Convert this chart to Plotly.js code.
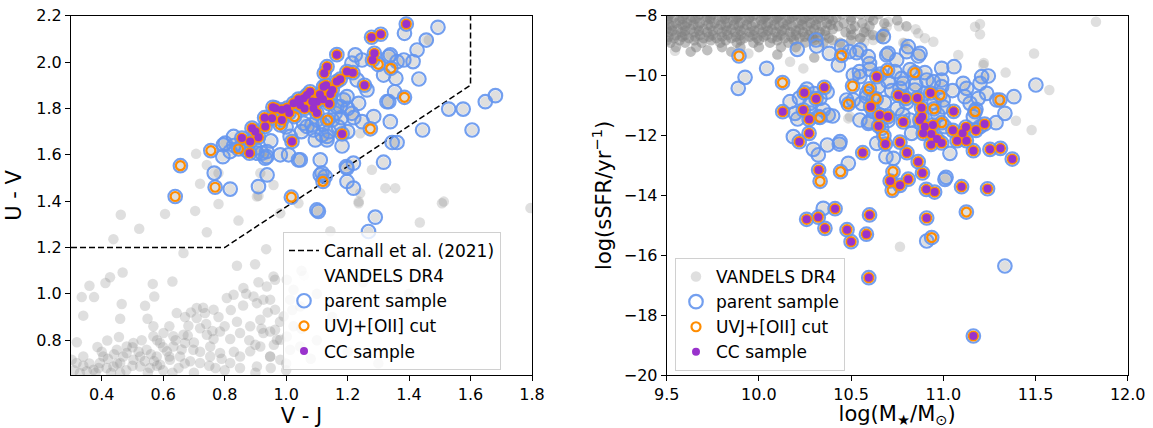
<!DOCTYPE html>
<html><head><meta charset="utf-8">
<script src="https://cdn.plot.ly/plotly-3.0.1.min.js"></script>
<style>html,body{margin:0;padding:0;background:#fff}#chart{width:1153px;height:428px}</style>
</head><body><div id="chart"></div>
<script>
// ---------- LEFT PANEL: UVJ diagram (V-J, U-V) ----------
const carnall_x = [0.3, 0.8, 1.6, 1.6];
const carnall_y = [1.2, 1.2, 1.9, 2.2];

const L_cc = [[1.391,2.164],[1.278,2.107],[1.308,2.120],[1.165,2.032],[1.287,2.038],[1.281,2.009],[1.133,1.980],[1.124,1.952],[1.198,1.959],[1.217,1.954],[1.176,1.926],[1.165,1.916],[1.255,1.900],[1.122,1.894],[1.144,1.862],[1.078,1.872],[1.057,1.844],[1.100,1.829],[1.046,1.815],[1.024,1.822],[1.003,1.801],[0.965,1.801],[0.986,1.750],[0.954,1.758],[0.932,1.722],[0.889,1.715],[0.856,1.672],[0.883,1.657],[0.910,1.676],[0.881,1.607],[1.019,1.657],[1.182,1.690],[1.089,1.801],[1.068,1.858],[0.957,1.805],[0.986,1.794],[1.040,1.840],[1.110,1.860],[1.130,1.900],[1.085,1.830],[1.060,1.800],[1.120,1.840],[1.150,1.880],[1.010,1.780],[0.930,1.760],[0.900,1.700],[1.100,1.780],[1.140,1.820]];

const L_uvj_only = [[0.656,1.553],[0.639,1.420],[0.755,1.618],[0.769,1.460],[1.017,1.417],[0.845,1.625],[1.027,1.765],[1.385,1.848],[1.341,1.973],[1.274,1.712],[1.120,1.485],[1.135,1.750],[0.981,1.729],[1.300,1.990]];

const L_parent_only = [[1.494,2.150],[1.456,2.095],[1.426,2.052],[1.385,2.124],[1.413,2.002],[1.432,1.927],[1.383,2.009],[1.361,2.002],[1.339,2.031],[1.317,1.944],[1.357,1.930],[1.353,1.872],[1.334,1.829],[1.339,1.743],[1.444,1.707],[1.529,1.797],[1.576,1.797],[1.648,1.829],[1.681,1.855],[1.605,1.707],[1.317,1.568],[1.345,1.653],[1.361,1.653],[1.285,1.765],[1.247,1.743],[1.236,1.822],[1.263,1.880],[1.214,1.779],[1.182,1.638],[1.219,1.564],[1.198,1.542],[1.219,1.456],[1.198,1.485],[1.111,1.578],[1.127,1.506],[1.100,1.362],[1.105,1.356],[1.046,1.578],[1.008,1.600],[0.981,1.600],[0.938,1.513],[0.910,1.463],[0.932,1.585],[0.905,1.607],[1.133,1.664],[1.095,1.664],[1.117,1.686],[1.057,1.736],[1.084,1.729],[1.165,1.808],[1.187,1.837],[1.144,1.837],[1.290,1.331],[1.268,1.269],[0.794,1.592],[0.766,1.521],[0.818,1.452],[0.937,1.592],[1.013,1.679],[0.802,1.650],[0.829,1.679],[1.040,1.578],[0.899,1.628],[0.856,1.636],[1.111,1.513],[1.196,1.549],[1.328,1.829],[1.225,2.031],[1.334,2.024],[1.214,1.995],[1.247,2.009],[1.089,1.707],[1.068,1.722],[1.133,1.679],[1.176,1.808],[1.198,1.851],[1.231,1.923],[0.937,1.614],[0.796,1.643],[0.818,1.614],[0.921,1.607],[1.117,1.521],[1.150,1.750],[1.170,1.720],[1.200,1.700],[1.120,1.730],[1.160,1.780],[1.200,1.800],[1.220,1.760],[1.180,1.760],[1.140,1.700],[1.100,1.750],[1.050,1.700],[1.000,1.720],[0.950,1.660],[0.870,1.620],[0.830,1.640]];

const L_vandels_only = [[0.462,1.341],[0.522,1.281],[0.438,1.236],[0.606,1.345],[0.704,1.358],[0.742,1.266],[0.780,1.388],[0.845,1.316],[0.666,1.176],[0.840,1.121],[0.899,1.128],[0.935,1.193],[0.468,1.092],[0.427,1.072],[0.412,1.047],[0.360,1.035],[0.335,0.986],[0.375,0.986],[0.630,1.053],[0.566,1.043],[0.571,0.989],[0.541,0.949],[0.465,0.956],[0.340,0.906],[0.460,0.893],[0.549,0.893],[0.319,0.791],[0.386,0.771],[0.418,0.799],[0.456,0.814],[0.568,0.860],[1.435,1.308],[1.507,1.391],[1.236,1.391],[1.144,1.270],[0.964,1.061],[0.948,0.975],[0.905,0.960],[0.926,0.831],[0.964,0.845],[0.970,0.802],[0.948,0.730],[0.905,0.687],[1.795,1.370],[1.241,1.693],[1.279,1.535],[1.323,1.456],[1.355,1.456],[1.513,1.398],[1.241,1.434],[1.236,1.398],[0.981,1.348],[1.040,1.391],[0.905,1.420],[0.959,1.470],[0.916,1.521],[1.464,2.095],[0.707,1.604],[0.742,1.556],[0.720,1.475],[0.780,1.521],[0.910,1.423],
[0.644,0.917],[0.671,0.900],[0.709,0.896],[0.720,0.852],[0.682,0.862],[0.742,0.824],[0.764,0.805],[0.785,0.838],[0.818,0.805],[0.850,0.831],[0.883,0.860],[0.916,0.888],[0.948,0.838],[0.981,0.802],[1.002,0.816],[0.964,0.932],[0.926,0.975],[0.861,1.025],[0.894,0.989],[0.829,0.996],[0.807,0.982],[0.764,0.932],[0.736,0.917],[0.709,0.939],[0.666,0.824],[0.633,0.817],[0.590,0.788],[0.612,0.752],[0.579,0.730],[0.546,0.759],[0.525,0.730],[0.503,0.716],[0.481,0.745],[0.460,0.702],[0.438,0.687],[0.416,0.680],[0.394,0.702],[0.373,0.673],[0.351,0.666],[0.329,0.659],[0.525,0.687],[0.557,0.680],[0.590,0.694],[0.622,0.716],[0.655,0.730],[0.688,0.709],[0.720,0.702],[0.753,0.730],[0.785,0.745],[0.818,0.702],[0.850,0.730],[0.883,0.752],[0.916,0.773],[0.948,0.730],[0.981,0.716],[1.013,0.759],[1.046,0.773],[1.024,0.860],[0.992,0.903],[1.013,0.975],[1.046,0.946],[0.959,1.075],[0.937,1.032],[1.002,1.061],[1.024,1.018],[0.753,0.773],[0.698,0.759],[0.671,0.788],[0.633,0.773],[0.601,0.831],[0.568,0.817],[0.503,0.788],[0.481,0.773],[0.449,0.759],[0.405,0.730],[0.340,0.730],[0.318,0.702],[0.302,0.716],
[1.05,0.85],[1.10,0.80],[1.20,0.75],[1.00,0.70],[1.15,0.90],[1.30,0.70],[1.10,1.00],[1.25,1.05],[1.40,1.00],[1.05,1.10],[1.02,0.93],[1.08,0.72],
[0.55,0.66],[0.60,0.67],[0.65,0.68],[0.70,0.66],[0.75,0.69],[0.80,0.67],[0.85,0.68],[0.90,0.66],[0.48,0.67],[0.43,0.66],[0.95,0.68],[1.00,0.67],
[0.36,0.70],[0.39,0.68],[0.42,0.72],[0.45,0.70],[0.47,0.73],[0.50,0.69],[0.52,0.75],[0.54,0.71],[0.56,0.74],[0.58,0.69],[0.60,0.77],[0.62,0.73],[0.64,0.80],[0.66,0.76],[0.68,0.82],[0.70,0.79],[0.72,0.75],[0.74,0.87],[0.76,0.84],[0.78,0.90],[0.80,0.86],[0.82,0.93],[0.84,0.88],[0.86,0.95],[0.88,0.80],[0.90,0.78],[0.92,0.85],[0.94,0.92],[0.96,0.78],[0.98,0.88],[0.73,0.94],[0.69,0.92],[0.62,0.86],[0.58,0.80],[0.53,0.80],[0.50,0.77],[0.44,0.74],[0.40,0.75],[0.34,0.69],[0.31,0.67],[0.87,1.00],[0.91,1.05],[0.83,0.75],[0.79,0.72],[0.77,0.68],[0.67,0.70],[0.63,0.66],[0.57,0.71],[0.46,0.66],[0.38,0.66]];

// ---------- RIGHT PANEL: log(sSFR) vs log(M*) ----------
const R_cc = [[10.246,-10.571],[10.310,-10.771],[10.355,-10.393],[10.129,-11.206],[10.241,-11.150],[10.272,-11.462],[10.272,-11.929],[10.219,-12.208],[10.324,-13.154],[10.563,-12.575],[10.639,-10.037],[10.606,-11.039],[10.649,-11.684],[10.686,-12.286],[10.655,-11.317],[10.700,-11.372],[10.712,-13.520],[10.413,-14.446],[10.259,-14.800],[10.322,-14.730],[10.600,-14.655],[10.358,-15.102],[10.478,-15.147],[10.500,-15.548],[10.583,-15.298],[10.596,-16.750],[10.910,-14.757],[11.163,-18.698],[10.756,-10.660],[10.797,-10.760],[10.859,-10.750],[10.931,-10.582],[10.882,-11.078],[10.885,-11.372],[10.873,-11.484],[10.900,-11.707],[10.944,-11.651],[10.891,-11.929],[10.935,-11.950],[10.966,-12.120],[10.991,-12.250],[10.934,-12.300],[10.783,-11.550],[10.765,-12.225],[10.803,-12.575],[10.864,-12.876],[10.887,-13.254],[10.810,-13.460],[10.765,-13.666],[10.908,-13.800],[10.953,-13.890],[11.099,-13.711],[11.240,-13.780],[11.056,-11.195],[11.052,-11.829],[11.123,-11.718],[11.105,-11.929],[11.075,-12.174],[11.125,-12.174],[11.177,-11.829],[11.224,-11.618],[11.163,-12.508],[11.253,-12.464],[11.310,-12.430],[11.374,-12.787]];

const R_uvj_only = [[9.892,-9.346],[10.128,-10.232],[10.449,-9.324],[10.331,-11.395],[10.332,-13.530],[10.443,-13.210],[10.485,-10.955],[10.508,-10.348],[10.599,-10.443],[10.636,-10.780],[10.698,-9.825],[10.846,-9.903],[10.982,-10.649],[10.950,-11.110],[10.991,-11.573],[11.172,-11.206],[11.307,-10.816],[10.727,-13.210],[10.723,-13.833],[11.125,-14.557],[10.937,-15.410],[10.678,-12.010]];

const R_parent_only = [[9.888,-10.426],[9.925,-10.059],[10.042,-9.758],[10.208,-9.124],[10.310,-8.812],[10.313,-9.012],[10.382,-9.257],[10.431,-9.647],[10.449,-9.035],[10.490,-9.202],[10.530,-9.235],[10.512,-9.981],[10.545,-9.870],[10.602,-9.792],[10.584,-10.593],[10.512,-10.816],[10.557,-10.927],[10.621,-10.760],[10.169,-10.872],[10.196,-11.261],[10.277,-10.927],[10.331,-10.760],[10.349,-11.150],[10.376,-11.317],[10.187,-12.040],[10.295,-12.464],[10.371,-12.319],[10.436,-12.286],[10.485,-12.931],[10.599,-11.540],[10.639,-12.263],[10.689,-12.709],[10.349,-14.434],[10.675,-8.701],[10.693,-9.313],[10.747,-9.480],[10.801,-9.202],[10.864,-9.346],[10.738,-9.870],[10.991,-9.758],[11.058,-9.703],[11.108,-10.260],[11.208,-10.037],[11.244,-10.014],[11.502,-10.315],[11.383,-10.705],[11.334,-11.261],[11.286,-11.573],[11.036,-12.597],[11.009,-13.466],[11.177,-11.128],[10.946,-10.204],[10.991,-10.371],[11.000,-10.816],[11.117,-10.705],[11.145,-10.927],[10.729,-12.765],[10.548,-9.146],[10.593,-9.369],[10.846,-10.482],[10.783,-10.260],[10.666,-11.762],[11.199,-10.260],[11.334,-16.360],[10.910,-15.525],[10.548,-10.037],[10.702,-9.257],[10.810,-9.035],[10.874,-9.257],[11.235,-10.593],[11.190,-10.760],[11.290,-10.816],[11.127,-10.426],[10.991,-10.148],[10.910,-10.148],[10.774,-10.092],[10.765,-10.426],[10.648,-10.370],[10.585,-10.705],[10.476,-10.816],[10.548,-11.484],[10.594,-11.595],[10.828,-11.929],[10.819,-11.484],[11.009,-11.707],[11.015,-13.399],[11.163,-11.373],[11.199,-11.707],[10.440,-12.208],[10.322,-11.373],[10.70,-10.2],[10.72,-10.5],[10.68,-10.9],[10.75,-11.1],[10.80,-10.9],[10.85,-10.3],[10.90,-10.6],[10.95,-10.9],[10.78,-11.3],[10.70,-11.5],[10.62,-11.2],[10.88,-11.6],[10.97,-11.3],[11.05,-10.5],[11.00,-11.05],[10.66,-9.95],[10.82,-9.8],[10.90,-9.9],[10.60,-9.6],[10.26,-10.45],[10.30,-10.6],[10.22,-10.75],[10.37,-10.55],[10.28,-11.25],[10.21,-11.45],[10.40,-11.35],[10.322,-12.650]];

const R_vandels_only = [[10.702,-8.20],[10.575,-8.42],[10.620,-8.81],[10.665,-8.70],[10.783,-8.90],[10.864,-8.59],[10.946,-8.87],[11.081,-9.31],[11.172,-8.37],[11.199,-8.28],[11.199,-8.62],[11.338,-9.90],[11.492,-9.26],[11.575,-10.48],[11.479,-11.82],[11.394,-11.51],[11.828,-8.20],[11.217,-9.65],[10.792,-8.92],[10.693,-8.37],[10.494,-11.37],[9.545,-9.17],[9.943,-9.26],[10.169,-9.54],[10.241,-9.76],[10.485,-11.43],[10.765,-15.715],[10.76,-8.35],[10.85,-8.45],[10.90,-8.75],[10.58,-8.55],[10.60,-8.65],[10.55,-8.75],[10.52,-8.60],[10.57,-8.90],[11.22,-9.58]];

const R_vandels_sf = [
[9.52,-7.95],[9.60,-7.95],[9.68,-7.95],[9.75,-7.95],[9.83,-7.95],[9.90,-7.95],[9.98,-7.95],[10.05,-7.95],[10.12,-7.95],[10.20,-7.95],[10.28,-7.95],[10.36,-7.95],[10.45,-7.95],[10.55,-7.95],[10.65,-7.95],
[9.51,-8.00],[9.59,-8.00],[9.67,-8.00],[9.74,-8.00],[9.82,-8.00],[9.89,-8.00],[9.97,-8.00],[10.04,-8.00],[10.11,-8.00],[10.19,-8.00],[10.27,-8.00],[10.35,-8.00],
[9.54,-8.05],[9.64,-8.05],[9.72,-8.05],[9.80,-8.05],[9.88,-8.05],[9.95,-8.05],[10.03,-8.05],[10.10,-8.05],[10.18,-8.05],[10.25,-8.05],[10.33,-8.05],[10.42,-8.05],[10.50,-8.05],[10.60,-8.05],
[9.505,-8.10],[9.585,-8.10],[9.655,-8.10],[9.735,-8.10],[9.815,-8.10],[9.875,-8.10],[9.945,-8.10],[10.025,-8.10],[10.095,-8.10],[10.165,-8.10],[10.245,-8.10],[10.32,-8.10],[10.38,-8.10],
[9.50,-8.15],[9.57,-8.15],[9.63,-8.15],[9.71,-8.15],[9.78,-8.15],[9.86,-8.15],[9.93,-8.15],[10.01,-8.15],[10.08,-8.15],[10.15,-8.15],[10.23,-8.15],[10.30,-8.15],[10.40,-8.15],[10.50,-8.15],[10.62,-8.15],[10.75,-8.15],
[9.55,-8.25],[9.61,-8.25],[9.68,-8.25],[9.76,-8.25],[9.83,-8.25],[9.90,-8.25],[9.98,-8.25],[10.05,-8.25],[10.13,-8.25],[10.21,-8.25],[10.28,-8.25],[10.37,-8.25],[10.46,-8.25],[10.56,-8.25],[10.68,-8.25],
[9.515,-8.30],[9.585,-8.30],[9.645,-8.30],[9.725,-8.30],[9.795,-8.30],[9.865,-8.30],[9.935,-8.30],[10.015,-8.30],[10.085,-8.30],[10.155,-8.30],[10.235,-8.30],[10.31,-8.30],[10.39,-8.30],
[9.53,-8.35],[9.60,-8.35],[9.67,-8.35],[9.74,-8.35],[9.82,-8.35],[9.89,-8.35],[9.96,-8.35],[10.04,-8.35],[10.11,-8.35],[10.18,-8.35],[10.26,-8.35],[10.34,-8.35],[10.43,-8.35],[10.52,-8.35],[10.60,-8.35],[10.80,-8.35],
[9.50,-8.45],[9.56,-8.45],[9.63,-8.45],[9.70,-8.45],[9.78,-8.45],[9.85,-8.45],[9.92,-8.45],[10.00,-8.45],[10.07,-8.45],[10.14,-8.45],[10.22,-8.45],[10.30,-8.45],[10.40,-8.45],[10.50,-8.45],
[9.53,-8.50],[9.60,-8.50],[9.675,-8.50],[9.75,-8.50],[9.825,-8.50],[9.90,-8.50],[9.975,-8.50],[10.05,-8.50],[10.125,-8.50],[10.20,-8.50],[10.28,-8.50],[10.36,-8.50],
[9.51,-8.55],[9.58,-8.55],[9.65,-8.55],[9.72,-8.55],[9.80,-8.55],[9.87,-8.55],[9.95,-8.55],[10.02,-8.55],[10.09,-8.55],[10.17,-8.55],[10.24,-8.55],[10.33,-8.55],[10.47,-8.55],[10.57,-8.55],[10.68,-8.55],
[9.55,-8.65],[9.60,-8.65],[9.68,-8.65],[9.75,-8.65],[9.83,-8.65],[9.90,-8.65],[9.97,-8.65],[10.04,-8.65],[10.12,-8.65],[10.20,-8.65],[10.27,-8.65],[10.36,-8.65],[10.50,-8.65],[10.62,-8.65],
[9.51,-8.70],[9.585,-8.70],[9.655,-8.70],[9.73,-8.70],[9.80,-8.70],[9.875,-8.70],[9.95,-8.70],[10.025,-8.70],[10.10,-8.70],[10.175,-8.70],[10.25,-8.70],[10.32,-8.70],
[9.54,-8.75],[9.62,-8.75],[9.70,-8.75],[9.77,-8.75],[9.85,-8.75],[9.92,-8.75],[9.99,-8.75],[10.07,-8.75],[10.14,-8.75],[10.22,-8.75],[10.29,-8.75],[10.38,-8.75],[10.55,-8.75],[10.66,-8.75],
[9.50,-8.82],[9.57,-8.82],[9.65,-8.82],[9.74,-8.82],[9.82,-8.82],[9.90,-8.82],[10.00,-8.82],[10.10,-8.82],[10.19,-8.82],[10.30,-8.82],[10.40,-8.82],[10.50,-8.82],
[9.52,-8.90],[9.60,-8.90],[9.69,-8.90],[9.79,-8.90],[9.88,-8.90],[9.97,-8.90],[10.06,-8.90],[10.16,-8.90],[10.25,-8.90],[10.35,-8.90],[10.44,-8.90],
[9.55,-9.05],[9.66,-9.05],[9.80,-9.05],[9.90,-9.05],[10.00,-9.05],[10.12,-9.05],[10.20,-9.05],
[9.63,-9.20],[9.72,-9.15],[9.85,-9.20],[10.10,-9.30],[10.30,-9.40]];

const px = a => a.map(p => p[0]);
const py = a => a.map(p => p[1]);

const blue = 'rgba(100,149,237,0.9)', orange = '#ff8c00', purple = '#9932cc';
const bgGray = 'rgba(128,128,128,0.25)';

function panel(xa, ya, bgOnly, cloud, parentOnly, uvjOnly, cc, legendId){
  const allParent = parentOnly.concat(uvjOnly, cc);
  const allUvj = uvjOnly.concat(cc);
  const bg = bgOnly.concat(allParent);
  const tr = [];
  if (cloud) tr.push({type:'scatter', mode:'markers', x:px(cloud), y:py(cloud), xaxis:xa, yaxis:ya,
     marker:{size:10.5, color:'rgba(128,128,128,0.5)'}, showlegend:false, hoverinfo:'skip'});
  tr.push({type:'scatter', mode:'markers', x:px(bg), y:py(bg), xaxis:xa, yaxis:ya, name:'VANDELS DR4',
     marker:{size:10.5, color:bgGray}, legend:legendId, legendrank:2, showlegend: legendId==='legend2'});
  tr.push({type:'scatter', mode:'markers', x:px(allParent), y:py(allParent), xaxis:xa, yaxis:ya, name:'parent sample',
     marker:{size:13.5, color:'rgba(0,0,0,0)', line:{color:blue, width:2.2}}, legend:legendId, legendrank:3});
  tr.push({type:'scatter', mode:'markers', x:px(allUvj), y:py(allUvj), xaxis:xa, yaxis:ya, name:'UVJ+[OII] cut',
     marker:{size:9, color:'rgba(0,0,0,0)', line:{color:orange, width:2.2}}, legend:legendId, legendrank:4});
  tr.push({type:'scatter', mode:'markers', x:px(cc), y:py(cc), xaxis:xa, yaxis:ya, name:'CC sample',
     marker:{size:8, color:purple}, legend:legendId, legendrank:5});
  return tr;
}

const traces = [];
traces.push({type:'scatter', mode:'markers', x:[null], y:[null], xaxis:'x', yaxis:'y', name:'VANDELS DR4',
   marker:{size:10, color:'rgba(128,128,128,0.02)'}, legend:'legend', legendrank:2});
traces.push(...panel('x','y', L_vandels_only, null, L_parent_only, L_uvj_only, L_cc, 'legend'));
// Carnall line on top of the grey points
traces.splice(2, 0, {type:'scatter', mode:'lines', x:carnall_x, y:carnall_y, xaxis:'x', yaxis:'y',
   name:'Carnall et al. (2021)', line:{color:'black', width:1.5, dash:'6px,3px'}, legend:'legend', legendrank:1, hoverinfo:'skip'});
traces.push(...panel('x2','y2', R_vandels_only, R_vandels_sf, R_parent_only, R_uvj_only, R_cc, 'legend2'));

const F = 'DejaVu Sans, sans-serif';
const axBase = {showline:true, mirror:true, linecolor:'black', linewidth:1, ticks:'outside', ticklen:5, tickwidth:1,
  tickcolor:'black', showgrid:false, zeroline:false, tickfont:{family:F, size:16, color:'black'}};
const yDom = [1-375/428, 1-15.7/428];
const legBase = {bgcolor:'rgba(255,255,255,0.8)', bordercolor:'#d0d0d0', borderwidth:1, font:{family:F, size:17, color:'black'},
  xanchor:'left', yanchor:'top', traceorder:'normal', itemsizing:'trace'};

const layout = {
  width:1153, height:428, margin:{l:0, r:0, t:0, b:0}, paper_bgcolor:'white', plot_bgcolor:'white',
  font:{family:F, color:'black'},
  xaxis:Object.assign({}, axBase, {domain:[71/1153, 532/1153], range:[0.3,1.8], tick0:0.4, dtick:0.2, tickformat:'.1f', anchor:'y',
     title:{text:'V - J', font:{family:F, size:21}, standoff:6}}),
  yaxis:Object.assign({}, axBase, {domain:yDom, range:[0.65,2.2], tick0:0.8, dtick:0.2, tickformat:'.1f', anchor:'x',
     title:{text:'U - V', font:{family:F, size:21}, standoff:8}}),
  xaxis2:Object.assign({}, axBase, {domain:[666.7/1153, 1127.7/1153], range:[9.5,12], tick0:9.5, dtick:0.5, tickformat:'.1f', anchor:'y2',
     title:{text:'log(M<sub>★</sub>/M<sub>⊙</sub>)', font:{family:F, size:21}, standoff:6}}),
  yaxis2:Object.assign({}, axBase, {domain:yDom, range:[-20,-8], dtick:2, anchor:'x2',
     title:{text:'log(sSFR/yr<sup>−1</sup>)', font:{family:F, size:21}, standoff:6}}),
  legend:Object.assign({}, legBase, {x:283/1153, y:1-232/428}),
  legend2:Object.assign({}, legBase, {x:675/1153, y:1-258/428}),
  showlegend:true
};

Plotly.newPlot('chart', traces, layout, {displayModeBar:false, staticPlot:true});
</script></body></html>
